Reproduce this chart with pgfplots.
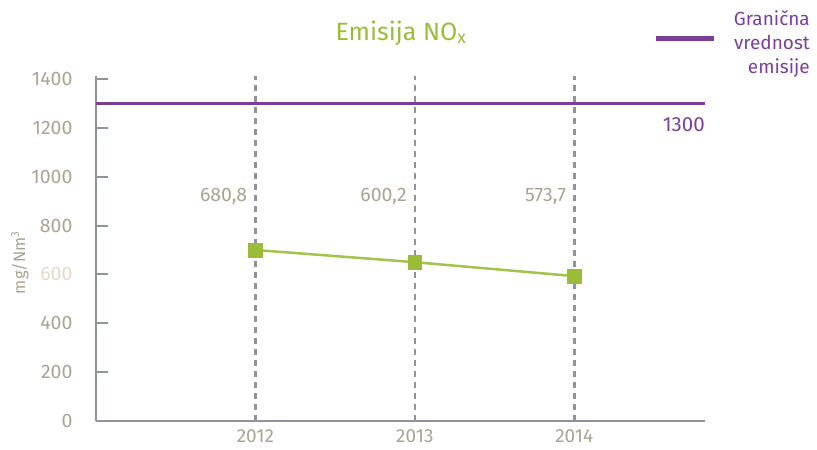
\documentclass[border=0pt]{standalone}
\usepackage{fontspec}
\setmainfont{Fira Sans}
\usepackage{pgfplots}
\pgfplotsset{compat=1.18}

\definecolor{nogreen}{HTML}{9BBB3B}
\definecolor{nolinegreen}{HTML}{A3C24E}
\definecolor{limitpurple}{HTML}{7B3F9A}
\definecolor{axisgray}{HTML}{8F939B}
\definecolor{labelbeige}{HTML}{ABA393}
\definecolor{palebeige}{HTML}{E3DAC9}

\newcommand\lblfont{\fontsize{19.5}{22}\selectfont}

\begin{document}
\begin{tikzpicture}
% page = 817 x 450, axis corner sits at pixel (96,421)
\path[use as bounding box] (-96pt,-29pt) rectangle (721pt,421pt);
\begin{axis}[
  at={(0pt,0pt)}, anchor=south west,
  scale only axis, width=609pt, height=344.5pt,
  xmin=2011, xmax=2014.82, ymin=0, ymax=1410,
  axis x line=bottom, axis y line=left,
  axis line style={axisgray, line width=2pt, -},
  xtick={2012,2013,2014}, xticklabels={2012,2013,2014},
  xtick style={draw=none},
  xmajorgrids,
  major grid style={axisgray, line width=2.5pt, dash pattern=on 6pt off 5pt},
  ytick={0,200,400,600,800,1000,1200,1400},
  yticklabels={0,200,400,{\textcolor{palebeige}{600}},800,1000,1200,1400},
  ytick style={axisgray, line width=2pt},
  tick align=inside, major tick length=12pt,
  /pgf/number format/assume math mode=true,
  ticklabel style={font=\lblfont, text=labelbeige},
  xticklabel style={yshift=-5pt, font=\fontsize{19}{21}\selectfont},
  yticklabel style={xshift=-20pt},
  ylabel={mg/Nm\textsuperscript{3}},
  ylabel style={at={(axis description cs:-0.125,0.46)}, anchor=center,
    font=\fontsize{16.5}{19}\selectfont, text=labelbeige},
  legend style={draw=none, fill=none, inner sep=0pt,
    at={(axis description cs:1.1757,1.199)}, anchor=north east,
    font=\fontsize{19}{24}\selectfont, text=limitpurple,
    cells={align=right}},
  legend image code/.code={\draw[line width=5pt] (0pt,4pt) -- (58pt,4pt); \path (74pt,0pt);},
]
\addplot[limitpurple, line width=3pt] coordinates {(2011,1300) (2014.82,1300)};
\addlegendentry{Granična\\vrednost\\emisije}

\addplot[nolinegreen, line width=2.5pt, mark=square*, mark size=6.8pt,
  mark options={fill=nogreen, draw=nogreen, line width=0.5pt}]
  coordinates {(2012,700) (2013,650) (2014,593)};

\node[anchor=east, inner sep=0pt, xshift=-8pt, text=labelbeige, font=\lblfont] at (axis cs:2012,917) {680,8};
\node[anchor=east, inner sep=0pt, xshift=-8pt, text=labelbeige, font=\lblfont] at (axis cs:2013,917) {600,2};
\node[anchor=east, inner sep=0pt, xshift=-8pt, text=labelbeige, font=\lblfont] at (axis cs:2014,917) {573,7};
\node[anchor=north east, inner sep=0pt, yshift=-14pt, text=limitpurple, font=\fontsize{20.5}{24}\selectfont] at (axis cs:2014.82,1300) {1300};
\end{axis}
\node[text=nogreen, font=\fontsize{25}{30}\selectfont] at (305pt,388pt) {Emisija NO\textsubscript{x}};
\end{tikzpicture}
\end{document}
